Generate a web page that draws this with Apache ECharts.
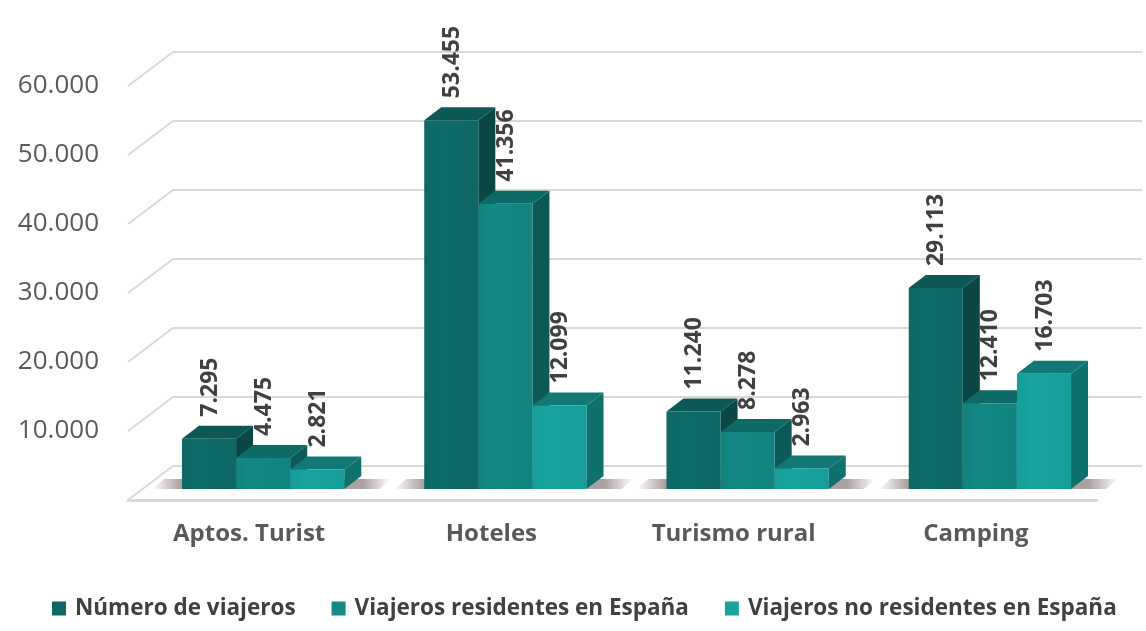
<!DOCTYPE html>
<html>
<head>
<meta charset="utf-8">
<script src="https://cdn.jsdelivr.net/npm/echarts@6/dist/echarts.min.js"></script>
<style>
  html, body { margin: 0; padding: 0; background: #fff; }
  #chart { width: 1146px; height: 631px; }
</style>
</head>
<body>
<div id="chart"></div>
<script>
// datos
const categories = ['Aptos. Turist', 'Hoteles', 'Turismo rural', 'Camping'];
const seriesNames = ['Número de viajeros', 'Viajeros residentes en España', 'Viajeros no residentes en España'];
const numeroViajeros = [7295, 53455, 11240, 29113];
const residentes = [4475, 41356, 8278, 12410];
const noResidentes = [2821, 12099, 2963, 16703];
const yTicks = [0, 10000, 20000, 30000, 40000, 50000, 60000];

// colores: frontal, lateral, superior
const faceColors = [
  { front: '#0e6865', side: '#0a4644', top: '#0c5855', legend: '#0f6665' },
  { front: '#12837f', side: '#0c5a58', top: '#0e6a67', legend: '#158a84' },
  { front: '#169d99', side: '#0f716e', top: '#117875', legend: '#1aa39e' }
];

const DX = 17, DY = 13;        // profundidad de la barra
const WDX = 45, WDY = 34;      // profundidad del suelo (frente -> fondo)

const fmt = v => String(v).replace(/\B(?=(\d{3})+(?!\d))/g, '.');

const chart = echarts.init(document.getElementById('chart'), null, { renderer: 'canvas' });

function barRenderer(idx) {
  return function (params, api) {
    const c = api.value(0);
    const v = api.value(1);
    const base = api.coord([c, 0]);
    const top = api.coord([c, v]);
    const band = api.size([1, 0])[0];
    const w = band * 0.67 / 3;
    const x = base[0] - 1.5 * w + idx * w;
    const yb = base[1], yt = top[1];
    const col = faceColors[idx];
    const children = [];
    if (idx === 0) {
      // sombra difusa sobre el suelo
      const gx = x, gw = 3 * w + DX;
      children.push({
        type: 'polygon',
        shape: { points: [[gx - 30, yb], [gx - 18, yb - DY + 3], [gx + gw + 30, yb - DY + 3], [gx + gw + 18, yb]] },
        style: {
          fill: new echarts.graphic.LinearGradient(0, 0, 1, 0, [
            { offset: 0, color: 'rgba(70,45,50,0)' },
            { offset: 0.12, color: 'rgba(70,45,50,0.45)' },
            { offset: 0.88, color: 'rgba(70,45,50,0.45)' },
            { offset: 1, color: 'rgba(70,45,50,0)' }
          ])
        }
      });
    }
    children.push(
      {
        type: 'polygon',
        shape: { points: [[x + w, yt], [x + w + DX, yt - DY], [x + w + DX, yb - DY], [x + w, yb]] },
        style: { fill: col.side }
      },
      {
        type: 'polygon',
        shape: { points: [[x, yt], [x + DX, yt - DY], [x + w + DX, yt - DY], [x + w, yt]] },
        style: { fill: col.top }
      },
      {
        type: 'rect',
        shape: { x: x, y: yt, width: w, height: yb - yt },
        style: {
          fill: new echarts.graphic.LinearGradient(0, 0, 1, 0, [
            { offset: 0, color: col.front },
            { offset: 0.3, color: echarts.color.lift(col.front, -0.04) },
            { offset: 1, color: col.front }
          ])
        }
      },
      {
        type: 'text',
        x: x + w / 2 + 1,
        y: yt - DY - 9,
        rotation: Math.PI / 2,
        style: {
          text: fmt(v),
          fill: '#404040',
          font: 'bold 23px "Open Sans"',
          align: 'left',
          verticalAlign: 'middle'
        }
      }
    );
    return { type: 'group', children: children };
  };
}

const values = [numeroViajeros, residentes, noResidentes];

const option = {
  animation: false,
  grid: [
    { left: 142, top: 75, width: 969, height: 414 },   // plano de las barras
    { left: 128, top: 86, width: 969, height: 414 },   // plano frontal (etiquetas)
    { left: 173, top: 52, width: 969, height: 414 }    // pared del fondo
  ],
  legend: {
    data: seriesNames,
    bottom: 6,
    left: 47,
    width: 1099,
    icon: 'rect',
    itemWidth: 14,
    itemHeight: 14,
    itemGap: 36,
    textStyle: {
      color: '#404040',
      fontFamily: 'Open Sans',
      fontWeight: 'bold',
      fontSize: 22.5,
      padding: [0, 0, 0, 4]
    }
  },
  xAxis: [
    { type: 'category', gridIndex: 0, data: categories, show: false },
    {
      type: 'category', gridIndex: 1, data: categories,
      axisLine: { lineStyle: { color: '#d9d9d9', width: 3 } },
      axisTick: { show: false },
      axisLabel: { color: '#595959', fontFamily: 'Open Sans', fontWeight: 'bold', fontSize: 24, margin: 22 }
    },
    { type: 'category', gridIndex: 2, data: categories, show: false }
  ],
  yAxis: [
    { type: 'value', gridIndex: 0, min: 0, max: 60000, interval: 10000, show: false },
    {
      type: 'value', gridIndex: 1, min: 0, max: 60000, interval: 10000,
      axisLine: { show: false },
      axisTick: { show: false },
      splitLine: { show: false },
      axisLabel: {
        color: '#595959', fontFamily: 'Open Sans', fontSize: 26, margin: 29,
        formatter: v => (v === 0 ? '' : fmt(v))
      }
    },
    {
      type: 'value', gridIndex: 2, min: 0, max: 60000, interval: 10000,
      axisLine: { show: false },
      axisTick: { show: false },
      axisLabel: { show: false },
      splitLine: { lineStyle: { color: '#d9d9d9', width: 2 } }
    }
  ],
  series: [
    {
      // diagonales del lateral izquierdo
      type: 'custom',
      xAxisIndex: 1,
      yAxisIndex: 1,
      silent: true,
      data: yTicks.map(v => [0, v]),
      renderItem: function (params, api) {
        const x0 = params.coordSys.x;
        const y = api.coord([0, api.value(1)])[1];
        return {
          type: 'line',
          shape: { x1: x0, y1: y, x2: x0 + WDX, y2: y - WDY },
          style: { stroke: '#d9d9d9', lineWidth: 2 }
        };
      }
    }
  ].concat(seriesNames.map((name, i) => ({
    name: name,
    type: 'custom',
    xAxisIndex: 0,
    yAxisIndex: 0,
    itemStyle: { color: faceColors[i].legend },
    data: values[i].map((v, c) => [c, v]),
    renderItem: barRenderer(i)
  })))
};

chart.setOption(option);
</script>
</body>
</html>
